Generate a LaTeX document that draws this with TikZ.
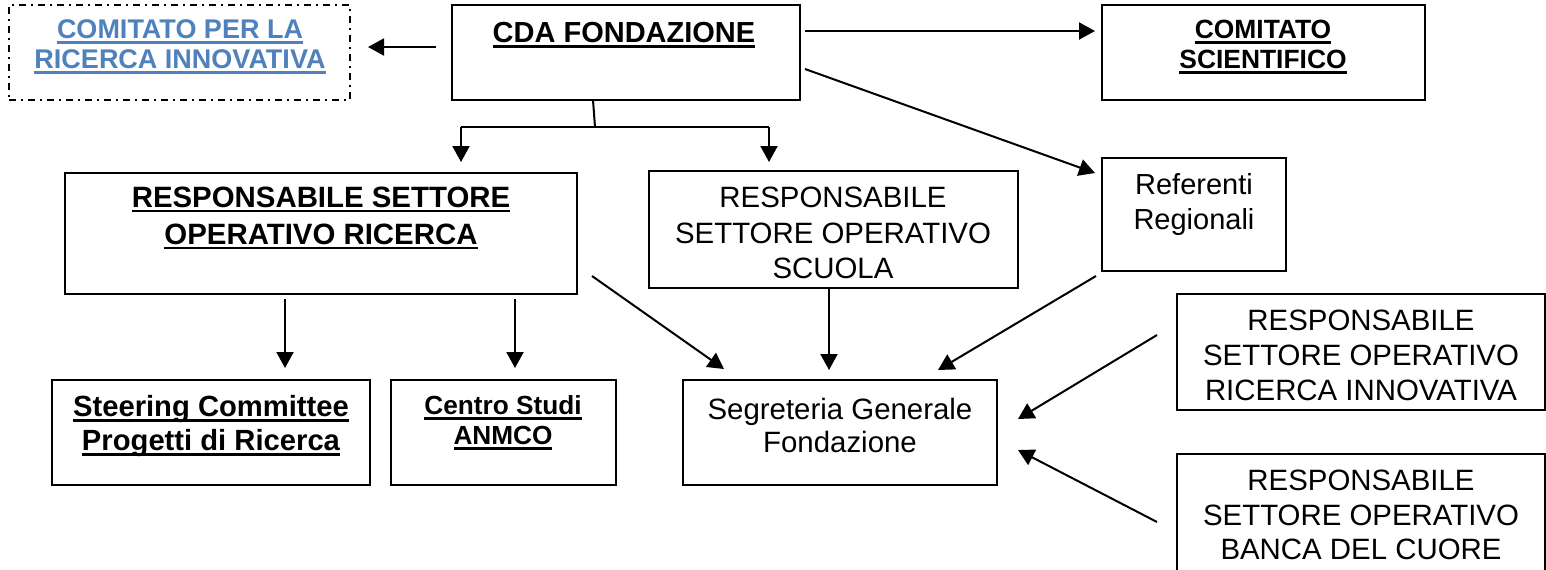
\documentclass[tikz,border=0pt]{standalone}
\usepackage{fontspec}
\setmainfont{Liberation Sans}
\usetikzlibrary{arrows.meta}
\definecolor{linkblue}{RGB}{79,129,189}
\newcommand{\uln}[1]{\leavevmode\setbox0\hbox{#1}\rlap{\rule[-2.6pt]{\wd0}{1.4pt}}\box0}
\tikzset{
  box/.style={draw=black, line width=1pt, rectangle, inner sep=0pt, fill=white},
  txt/.style={align=center, inner sep=0pt},
  conn/.style={line width=1pt, -{Triangle[length=8pt,width=8.5pt]}},
  plain/.style={line width=1pt},
  dashdot/.style={dash pattern=on 3.5pt off 2.5pt on 1pt off 2.5pt}
}
\newcommand{\fsz}[2]{\fontsize{#1}{#2}\selectfont}
\begin{document}
\begin{tikzpicture}[x=0.5pt,y=-0.5pt]
\useasboundingbox (0,0) rectangle (1546,569);
\fill[white] (0,0) rectangle (1546,569);
% boxes
\node[box, dashdot, minimum width=170.5pt, minimum height=47.5pt] (comric) at (179.5,52.5) {};
\node[box, minimum width=174pt, minimum height=47.5pt] (cda) at (626,52.5) {};
\node[box, minimum width=161.5pt, minimum height=47.5pt] (comsci) at (1263.5,52.5) {};
\node[box, minimum width=256pt, minimum height=60.5pt] (rsr) at (321,233.5) {};
\node[box, minimum width=184.5pt, minimum height=58.5pt] (rss) at (833.5,229.5) {};
\node[box, minimum width=92pt, minimum height=56.5pt] (ref) at (1194,214.5) {};
\node[box, minimum width=159pt, minimum height=52.5pt] (steer) at (211,432.5) {};
\node[box, minimum width=112.5pt, minimum height=52.5pt] (cs) at (503.5,432.5) {};
\node[box, minimum width=157pt, minimum height=52.5pt] (seg) at (840,432.5) {};
\node[box, minimum width=184pt, minimum height=58pt] (rsi) at (1361,352) {};
\node[box, minimum width=184pt, minimum height=61pt] (rsb) at (1361,514.5) {};
% texts
\node[txt, text=linkblue, font=\bfseries\fsz{13.5}{15}] (comric-t) at (180,47) {\uln{COMITATO PER LA}\\\uln{RICERCA INNOVATIVA}};
\node[txt, font=\bfseries\fsz{14.5}{17}] (cda-t) at (624,35) {\uln{CDA FONDAZIONE}};
\node[txt, font=\bfseries\fsz{13.2}{15}] (comsci-t) at (1263,47) {\uln{COMITATO}\\\uln{SCIENTIFICO}};
\node[txt, font=\bfseries\fsz{14.7}{18.5}] (rsr-t) at (321,218) {\uln{RESPONSABILE SETTORE}\\\uln{OPERATIVO RICERCA}};
\node[txt, font=\fsz{14.7}{17.8}] (rss-t) at (833,233) {RESPONSABILE\\SETTORE OPERATIVO\\SCUOLA};
\node[txt, font=\fsz{14.5}{17.5}] (ref-t) at (1194,204) {Referenti\\Regionali};
\node[txt, font=\bfseries\fsz{14.6}{17}] (steer-t) at (211,426) {\uln{Steering Committee}\\\uln{Progetti di Ricerca}};
\node[txt, font=\bfseries\fsz{13.1}{15}] (cs-t) at (503,423) {\uln{Centro Studi}\\\uln{ANMCO}};
\node[txt, font=\fsz{14.7}{16.5}] (seg-t) at (840,425.5) {Segreteria Generale\\Fondazione};
\node[txt, font=\fsz{14.7}{17.5}] (rsi-t) at (1361,355) {RESPONSABILE\\SETTORE OPERATIVO\\RICERCA INNOVATIVA};
\node[txt, font=\fsz{14.7}{17.3}] (rsb-t) at (1361,515) {RESPONSABILE\\SETTORE OPERATIVO\\BANCA DEL CUORE};
% connector end points
\coordinate (a1s) at (436,47);   \coordinate (a1e) at (368,47);
\coordinate (a2s) at (805,31);   \coordinate (a2e) at (1095,31);
\coordinate (a3s) at (805,69);   \coordinate (a3e) at (1095,173);
\coordinate (b0) at (593,100);   \coordinate (b1) at (595,127);
\coordinate (bl) at (461,127);   \coordinate (br) at (769,127);
\coordinate (ble) at (461,162);  \coordinate (bre) at (769,162);
\coordinate (c1s) at (285,299);  \coordinate (c1e) at (285,368);
\coordinate (c2s) at (515,299);  \coordinate (c2e) at (515,368);
\coordinate (c3s) at (592,276);  \coordinate (c3e) at (724,369);
\coordinate (d1s) at (829,288);  \coordinate (d1e) at (829,370);
\coordinate (d2s) at (1096,276); \coordinate (d2e) at (938,370);
\coordinate (e1s) at (1157,335); \coordinate (e1e) at (1018,419);
\coordinate (e2s) at (1157,522); \coordinate (e2e) at (1018,450);
% connectors
\draw[conn] (a1s) -- (a1e);
\draw[conn] (a2s) -- (a2e);
\draw[conn] (a3s) -- (a3e);
\draw[plain] (b0) -- (b1);
\draw[plain] (bl) -- (br);
\draw[conn] (bl) -- (ble);
\draw[conn] (br) -- (bre);
\draw[conn] (c1s) -- (c1e);
\draw[conn] (c2s) -- (c2e);
\draw[conn] (c3s) -- (c3e);
\draw[conn] (d1s) -- (d1e);
\draw[conn] (d2s) -- (d2e);
\draw[conn] (e1s) -- (e1e);
\draw[conn] (e2s) -- (e2e);
\end{tikzpicture}
\end{document}
